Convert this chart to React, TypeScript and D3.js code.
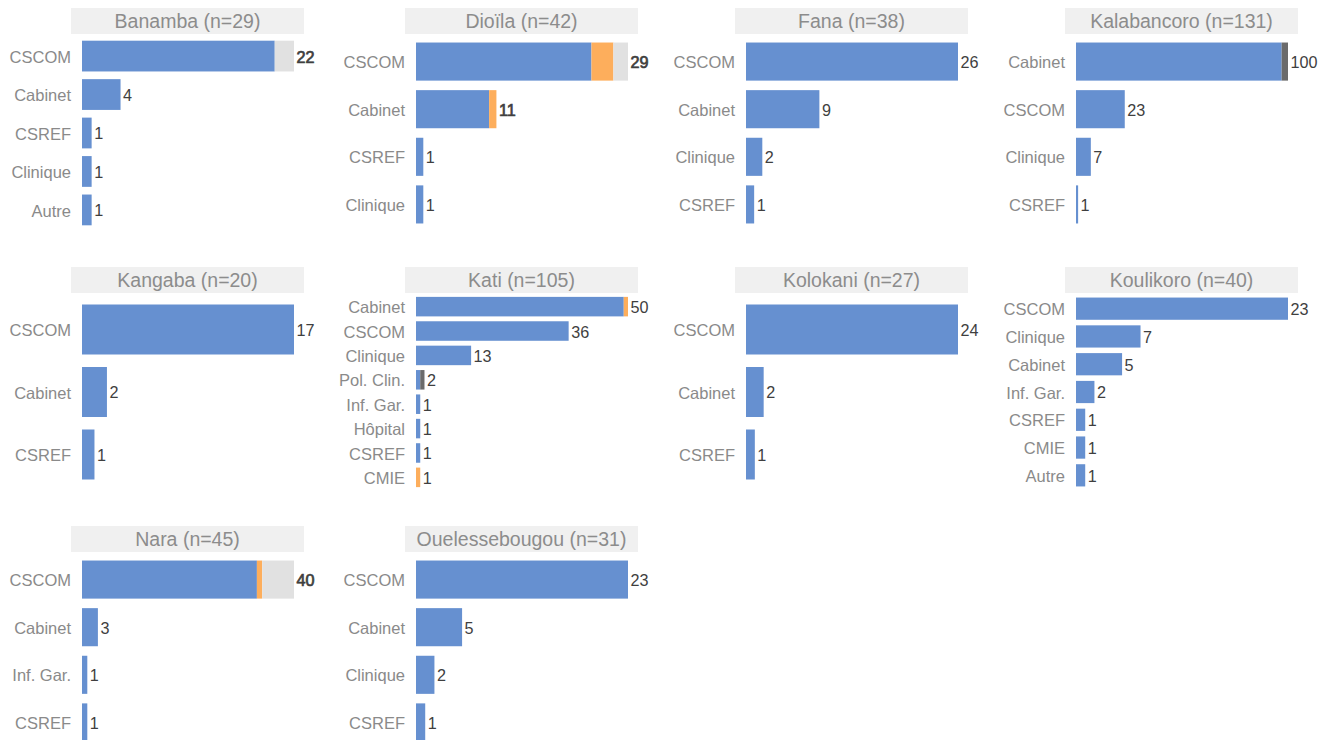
import React from "react";
import * as d3 from "d3";

const districts = ["Banamba", "Dioïla", "Fana", "Kalabancoro", "Kangaba", "Kati", "Kolokani", "Koulikoro", "Nara", "Ouelessebougou"];
const sampleSizes = [29, 42, 38, 131, 20, 105, 27, 40, 45, 31];

const categories = [
  ["CSCOM", "Cabinet", "CSREF", "Clinique", "Autre"],
  ["CSCOM", "Cabinet", "CSREF", "Clinique"],
  ["CSCOM", "Cabinet", "Clinique", "CSREF"],
  ["Cabinet", "CSCOM", "Clinique", "CSREF"],
  ["CSCOM", "Cabinet", "CSREF"],
  ["Cabinet", "CSCOM", "Clinique", "Pol. Clin.", "Inf. Gar.", "Hôpital", "CSREF", "CMIE"],
  ["CSCOM", "Cabinet", "CSREF"],
  ["CSCOM", "Clinique", "Cabinet", "Inf. Gar.", "CSREF", "CMIE", "Autre"],
  ["CSCOM", "Cabinet", "Inf. Gar.", "CSREF"],
  ["CSCOM", "Cabinet", "Clinique", "CSREF"],
];

const blueValues = [
  [20, 4, 1, 1, 1],
  [24, 10, 1, 1],
  [26, 9, 2, 1],
  [97, 23, 7, 1],
  [17, 2, 1],
  [49, 36, 13, 1, 1, 1, 1, 0],
  [24, 2, 1],
  [23, 7, 5, 2, 1, 1, 1],
  [33, 3, 1, 1],
  [23, 5, 2, 1],
];
const orangeValues = [
  [0, 0, 0, 0, 0],
  [3, 1, 0, 0],
  [0, 0, 0, 0],
  [0, 0, 0, 0],
  [0, 0, 0],
  [1, 0, 0, 0, 0, 0, 0, 1],
  [0, 0, 0],
  [0, 0, 0, 0, 0, 0, 0],
  [1, 0, 0, 0],
  [0, 0, 0, 0],
];
const darkGrayValues = [
  [0, 0, 0, 0, 0],
  [0, 0, 0, 0],
  [0, 0, 0, 0],
  [3, 0, 0, 0],
  [0, 0, 0],
  [0, 0, 0, 1, 0, 0, 0, 0],
  [0, 0, 0],
  [0, 0, 0, 0, 0, 0, 0],
  [0, 0, 0, 0],
  [0, 0, 0, 0],
];
const lightGrayValues = [
  [2, 0, 0, 0, 0],
  [2, 0, 0, 0],
  [0, 0, 0, 0],
  [0, 0, 0, 0],
  [0, 0, 0],
  [0, 0, 0, 0, 0, 0, 0, 0],
  [0, 0, 0],
  [0, 0, 0, 0, 0, 0, 0],
  [6, 0, 0, 0],
  [0, 0, 0, 0],
];

const boldValueLabels = ["Banamba|CSCOM", "Dioïla|CSCOM", "Dioïla|Cabinet", "Nara|CSCOM"];

const segmentSeries = [blueValues, orangeValues, darkGrayValues, lightGrayValues];
const segmentColors = ["#6690d0", "#fdae5c", "#6b6b6b", "#e1e1e1"];

const W = 1337;
const H = 740;
const colX = [82, 416, 746, 1076];
const rowY = [0, 259, 518];
const barWidth = 212;
const FONT = "'Liberation Sans', Arial, Helvetica, sans-serif";

function Panel({ idx }: { idx: number }) {
  const col = idx % 4;
  const row = Math.floor(idx / 4);
  const x0 = colX[col];
  const y0 = rowY[row];
  const cats = categories[idx];
  const totals = cats.map((_, i) => segmentSeries.reduce((s, arr) => s + arr[idx][i], 0));
  const x = d3.scaleLinear().domain([0, d3.max(totals) as number]).range([x0, x0 + barWidth]);
  const y = d3.scaleBand<string>().domain(cats).range([y0 + 33, y0 + 233]).paddingInner(0.2).paddingOuter(0.2);

  return (
    <g>
      <rect x={x0 - 11} y={y0 + 8} width={barWidth + 21} height={26} fill="#f0f0f0" />
      <text
        x={x0 - 11 + (barWidth + 21) / 2}
        y={y0 + 28}
        textAnchor="middle"
        fontSize={19.5}
        fill="#8c8c8c"
        fontFamily={FONT}
      >
        {`${districts[idx]} (n=${sampleSizes[idx]})`}
      </text>
      {cats.map((c, i) => {
        let acc = 0;
        const yy = y(c) as number;
        const bw = y.bandwidth();
        const segs = segmentSeries.map((arr, s) => {
          const v = arr[idx][i];
          const start = acc;
          acc += v;
          if (v <= 0) return null;
          return (
            <rect
              key={s}
              x={x(start)}
              y={yy}
              width={x(start + v) - x(start)}
              height={bw}
              fill={segmentColors[s]}
            />
          );
        });
        const bold = boldValueLabels.includes(`${districts[idx]}|${c}`);
        return (
          <g key={c}>
            {segs}
            <text
              x={x0 - 11}
              y={yy + bw / 2}
              dy="0.4em"
              textAnchor="end"
              fontSize={16.5}
              fill="#8a8a8a"
              fontFamily={FONT}
            >
              {c}
            </text>
            <text
              x={x(totals[i]) + 2.5}
              y={yy + bw / 2}
              dy="0.4em"
              textAnchor="start"
              fontSize={16.2}
              fill="#3f3f3f"
              stroke={bold ? "#3f3f3f" : "none"}
              strokeWidth={bold ? 0.7 : 0}
              fontFamily={FONT}
            >
              {totals[i]}
            </text>
          </g>
        );
      })}
    </g>
  );
}

export default function App() {
  return (
    <svg
      width={W}
      height={H}
      style={{ position: "fixed", left: 0, top: 0, background: "#ffffff" }}
    >
      <rect x={0} y={0} width={W} height={H} fill="#ffffff" />
      {districts.map((_, i) => (
        <Panel key={i} idx={i} />
      ))}
    </svg>
  );
}
